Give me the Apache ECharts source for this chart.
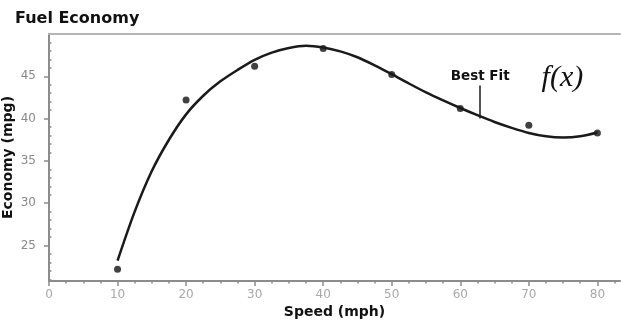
<!DOCTYPE html>
<html>
<head>
<meta charset="utf-8">
<script src="https://cdn.jsdelivr.net/npm/echarts@6/dist/echarts.min.js"></script>
<style>
  html, body { margin: 0; padding: 0; background: #fff; }
  #chart { width: 621px; height: 320px; }
</style>
</head>
<body>
<div id="chart"></div>
<script>
// measured speeds and economy
const speeds = [10, 20, 30, 40, 50, 60, 70, 80]
const economy = [22.2, 42.2, 46.2, 48.3, 45.2, 41.2, 39.2, 38.3]

// best fit curve, every 2.5 mph
const fitX = [10, 12.5, 15, 17.5, 20, 22.5, 25, 27.5, 30, 32.5, 35, 37.5, 40, 42.5, 45, 47.5, 50, 52.5, 55, 57.5, 60, 62.5, 65, 67.5, 70, 72.5, 75, 77.5, 80]
const fitY = [23.2, 29.0, 33.8, 37.5, 40.5, 42.7, 44.4, 45.75, 46.95, 47.8, 48.35, 48.6, 48.4, 47.95, 47.25, 46.3, 45.25, 44.15, 43.1, 42.15, 41.25, 40.4, 39.6, 38.9, 38.3, 37.9, 37.75, 37.9, 38.35]

// tick labels
const xTicks = [0, 10, 20, 30, 40, 50, 60, 70, 80]
const xMinorTicks = [2.5, 5, 7.5, 12.5, 15, 17.5, 22.5, 25, 27.5, 32.5, 35, 37.5, 42.5, 45, 47.5, 52.5, 55, 57.5, 62.5, 65, 67.5, 72.5, 75, 77.5, 82.5]
const yTicks = [25, 30, 35, 40, 45]
const yMinorTicks = [21, 22, 23, 24, 26, 27, 28, 29, 31, 32, 33, 34, 36, 37, 38, 39, 41, 42, 43, 44, 46, 47, 48, 49]

// annotation anchors
const bestFitLine = [[62.9, 40.0], [62.9, 43.9]]
const fxAnchor = [74.9, 44.8]

const AXIS_COLOR = '#8c8c8c'
const FONT = 'DejaVu Sans'

const chart = echarts.init(document.getElementById('chart'), null, { renderer: 'canvas' })

const xRange = { min: 0, max: 83.3 }
const yRange = { min: 20.8, max: 50 }

chart.setOption({
  animation: false,
  backgroundColor: '#fff',
  title: {
    text: 'Fuel Economy',
    left: 10,
    top: 6,
    textStyle: { fontFamily: FONT, fontWeight: 'bold', fontSize: 16, color: '#111' }
  },
  grid: { left: 49, right: 1, top: 34, bottom: 39, outerBoundsMode: 'none', containLabel: false },
  xAxis: [
    {
      type: 'value',
      ...xRange,
      position: 'bottom',
      name: 'Speed (mph)',
      nameLocation: 'center',
      nameGap: 24,
      nameMoveOverlap: false,
      nameTextStyle: { fontFamily: FONT, fontWeight: 'bold', fontSize: 14, color: '#111' },
      splitLine: { show: false },
      axisLine: { lineStyle: { color: AXIS_COLOR, width: 2 } },
      axisTick: { customValues: xTicks, length: 5, lineStyle: { color: AXIS_COLOR, width: 1.5 } },
      axisLabel: { customValues: xTicks, margin: 8, fontFamily: FONT, fontSize: 12, color: '#a8a8a8' }
    },
    {
      type: 'value',
      ...xRange,
      position: 'bottom',
      splitLine: { show: false },
      axisLine: { show: false },
      axisTick: { customValues: xMinorTicks, length: 2.5, lineStyle: { color: AXIS_COLOR, width: 1.5 } },
      axisLabel: { show: false }
    },
    {
      type: 'value',
      ...xRange,
      position: 'top',
      splitLine: { show: false },
      axisLine: { lineStyle: { color: '#b5b5b5', width: 2 } },
      axisTick: { show: false },
      axisLabel: { show: false }
    }
  ],
  yAxis: [
    {
      type: 'value',
      ...yRange,
      name: 'Economy (mpg)',
      nameLocation: 'center',
      nameGap: 34,
      nameMoveOverlap: false,
      nameTextStyle: { fontFamily: FONT, fontWeight: 'bold', fontSize: 14, color: '#111' },
      splitLine: { show: false },
      axisLine: { show: true, lineStyle: { color: AXIS_COLOR, width: 2 } },
      axisTick: { show: true, customValues: yTicks, length: 5, lineStyle: { color: AXIS_COLOR, width: 1.5 } },
      axisLabel: { customValues: yTicks, margin: 13, fontFamily: FONT, fontSize: 12, color: '#8a8a8a' }
    },
    {
      type: 'value',
      ...yRange,
      splitLine: { show: false },
      axisLine: { show: false },
      axisTick: { show: true, customValues: yMinorTicks, length: 2.5, lineStyle: { color: AXIS_COLOR, width: 1.5 } },
      axisLabel: { show: false }
    }
  ],
  series: [
    {
      type: 'line',
      xAxisIndex: 0,
      yAxisIndex: 0,
      data: fitX.map((x, i) => [x, fitY[i]]),
      smooth: 0.3,
      symbol: 'none',
      lineStyle: { color: '#1a1a1a', width: 2.5 },
      markLine: {
        silent: true,
        symbol: 'none',
        lineStyle: { color: '#1a1a1a', width: 1.5, type: 'solid' },
        label: {
          show: true,
          position: 'end',
          formatter: 'Best Fit',
          distance: 2,
          fontFamily: FONT,
          fontWeight: 'bold',
          fontSize: 13.5,
          color: '#111'
        },
        data: [[{ coord: bestFitLine[0] }, { coord: bestFitLine[1] }]]
      },
      markPoint: {
        silent: true,
        symbol: 'circle',
        symbolSize: 0,
        label: {
          show: true,
          position: 'inside',
          formatter: 'f(x)',
          fontFamily: 'Liberation Serif',
          fontStyle: 'italic',
          fontSize: 30,
          color: '#111'
        },
        data: [{ coord: fxAnchor }]
      }
    },
    {
      type: 'scatter',
      xAxisIndex: 0,
      yAxisIndex: 0,
      data: speeds.map((s, i) => [s, economy[i]]),
      symbol: 'circle',
      symbolSize: 7,
      itemStyle: { color: '#111' }
    }
  ]
})
</script>
</body>
</html>
